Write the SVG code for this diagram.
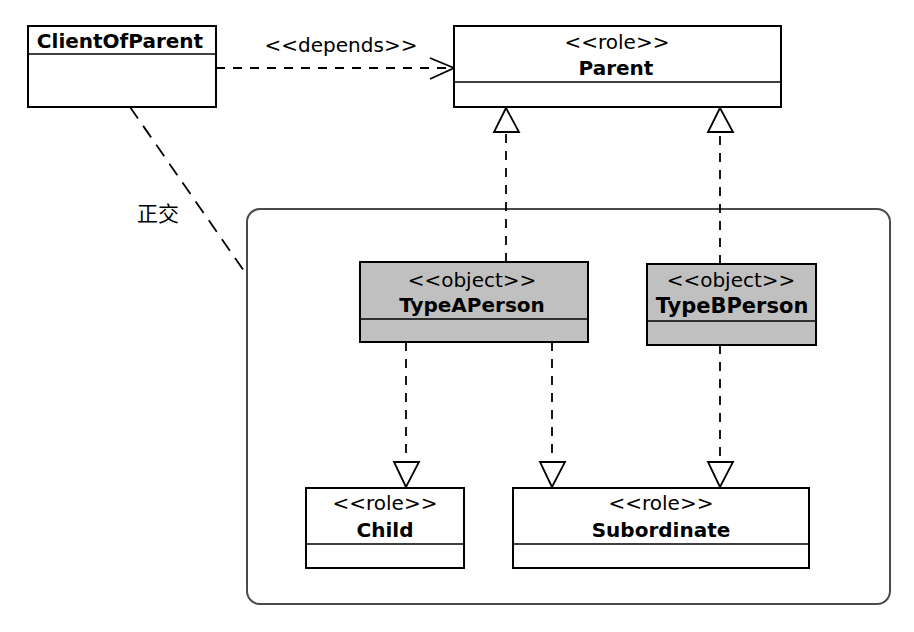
<svg xmlns="http://www.w3.org/2000/svg" width="914" height="632" viewBox="0 0 914 632">
<style>
.box{fill:#fff;stroke:#000;stroke-width:2}
.obj{fill:#c0c0c0;stroke:#000;stroke-width:2}
.div{stroke:#000;stroke-width:1.5}
.st{font-family:"DejaVu Sans",sans-serif;font-size:20px;text-anchor:middle;fill:#000}
.nm{font-family:"DejaVu Sans",sans-serif;font-size:20px;font-weight:bold;text-anchor:middle;fill:#000}
.dash{fill:none;stroke:#000;stroke-width:1.8;stroke-dasharray:9,8}
.tri{fill:#fff;stroke:#000;stroke-width:1.8;stroke-linejoin:miter}
</style>
<rect x="0" y="0" width="914" height="632" fill="#fff"/>
<g id="container">
<rect x="247" y="209" width="643" height="395" rx="13" ry="13" fill="none" stroke="#4a4a4a" stroke-width="2"/>
</g>
<g id="connectors">
<line class="dash" x1="216" y1="68" x2="452" y2="68"/>
<polyline fill="none" stroke="#000" stroke-width="1.8" points="430,58 454,68 430,79"/>
<text class="st" x="341" y="52">&lt;&lt;depends&gt;&gt;</text>
<line class="dash" x1="130" y1="107" x2="244" y2="271" style="stroke-dasharray:14,9"/>
<text x="137" y="221" font-family="'Noto Sans CJK SC',sans-serif" font-size="21" fill="#000">正交</text>
<line class="dash" x1="506" y1="262" x2="506" y2="133"/>
<polygon class="tri" points="506,108 494,132 519,132"/>
<line class="dash" x1="720" y1="264" x2="720" y2="133"/>
<polygon class="tri" points="720,108 708,132 733,132"/>
<line class="dash" x1="406" y1="342" x2="406" y2="462"/>
<polygon class="tri" points="406,487 394,462 419,462"/>
<line class="dash" x1="552" y1="342" x2="552" y2="462"/>
<polygon class="tri" points="552,487 540,462 565,462"/>
<line class="dash" x1="720" y1="345" x2="720" y2="462"/>
<polygon class="tri" points="720,487 708,462 733,462"/>
</g>
<g id="ClientOfParent">
<rect class="box" x="28" y="26" width="188" height="81"/>
<line class="div" x1="28" y1="54" x2="216" y2="54"/>
<text class="nm" x="120" y="48">ClientOfParent</text>
</g>
<g id="Parent">
<rect class="box" x="454" y="26" width="327" height="81"/>
<line class="div" x1="454" y1="82" x2="781" y2="82"/>
<text class="st" x="617" y="49">&lt;&lt;role&gt;&gt;</text>
<text class="nm" x="616" y="75">Parent</text>
</g>
<g id="TypeAPerson">
<rect class="obj" x="360" y="262" width="228" height="80"/>
<line class="div" x1="360" y1="319" x2="588" y2="319"/>
<text class="st" x="472" y="287">&lt;&lt;object&gt;&gt;</text>
<text class="nm" x="472" y="312">TypeAPerson</text>
</g>
<g id="TypeBPerson">
<rect class="obj" x="647" y="264" width="169" height="81"/>
<line class="div" x1="647" y1="321" x2="816" y2="321"/>
<text class="st" x="731" y="287">&lt;&lt;object&gt;&gt;</text>
<text class="nm" x="732" y="313" style="font-size:21px">TypeBPerson</text>
</g>
<g id="Child">
<rect class="box" x="306" y="488" width="158" height="80"/>
<line class="div" x1="306" y1="544" x2="464" y2="544"/>
<text class="st" x="385" y="510">&lt;&lt;role&gt;&gt;</text>
<text class="nm" x="385" y="537">Child</text>
</g>
<g id="Subordinate">
<rect class="box" x="513" y="488" width="296" height="80"/>
<line class="div" x1="513" y1="544" x2="809" y2="544"/>
<text class="st" x="661" y="510">&lt;&lt;role&gt;&gt;</text>
<text class="nm" x="661" y="537">Subordinate</text>
</g>
</svg>
